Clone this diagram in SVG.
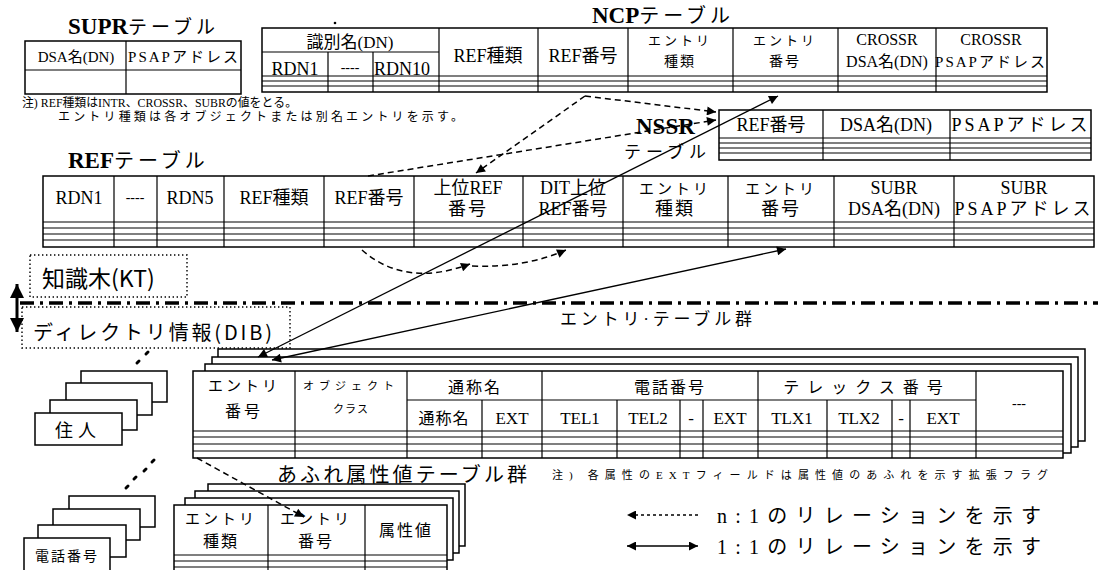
<svg xmlns="http://www.w3.org/2000/svg" width="1098" height="570" viewBox="0 0 1098 570">
<defs>
<marker id="ah" viewBox="0 0 10 10" refX="10" refY="5" markerWidth="12" markerHeight="9" markerUnits="userSpaceOnUse" orient="auto-start-reverse"><path d="M0,0 L10,5 L0,10 z" fill="#000"/></marker>
<marker id="ahb" viewBox="0 0 10 10" refX="10" refY="5" markerWidth="14" markerHeight="14" markerUnits="userSpaceOnUse" orient="auto-start-reverse"><path d="M0,0 L10,5 L0,10 z" fill="#000"/></marker>
</defs>
<style>
.t{font-family:"Liberation Serif","Noto Sans CJK JP",serif;fill:#000}
.g{font-family:"Noto Sans CJK JP",sans-serif;fill:#000}
.c{text-anchor:middle}
.box{fill:#fff;stroke:#000;stroke-width:1.5}
.ln{stroke:#000;stroke-width:1.2;fill:none}
.dash{stroke:#000;stroke-width:1.5;fill:none;stroke-dasharray:6 4}
.sol{stroke:#000;stroke-width:1.3;fill:none}
.dotb{fill:none;stroke:#000;stroke-width:1.4;stroke-dasharray:1.4 2.6}
.h{font-size:18px}
.k{font-size:15px;letter-spacing:3px}
</style>
<rect width="1098" height="570" fill="#fff"/>

<g id="supr">
<text class="t" x="68" y="34"><tspan font-weight="bold" font-size="23">SUPR</tspan><tspan font-size="19" letter-spacing="4">テーブル</tspan></text>
<rect class="box" x="25" y="41" width="216" height="53"/>
<path class="ln" d="M25,70H241M126,41V94"/>
<text class="t c" x="76" y="62" font-size="15">DSA名(DN)</text>
<text class="t c" x="184" y="62" font-size="15" letter-spacing="2">PSAPアドレス</text>
</g>

<circle cx="335" cy="23" r="1.3" fill="#000"/>

<g id="ncp">
<text class="t" x="592" y="23"><tspan font-weight="bold" font-size="23">NCP</tspan><tspan font-size="20" letter-spacing="4">テーブル</tspan></text>
<rect class="box" x="262" y="28" width="785" height="64"/>
<path class="ln" d="M262,52H439M328,52V92M373,52V92M439,28V92M538,28V92M628,28V92M733,28V92M838,28V92M936,28V92M262,76H1047M262,81H1047M262,86H1047"/>
<text class="t c" x="350" y="48" font-size="17">識別名(DN)</text>
<text class="t c h" x="295" y="75">RDN1</text>
<text class="t c" x="350" y="72" font-size="14">----</text>
<text class="t h" x="374" y="75">RDN10</text>
<text class="t c h" x="488" y="62">REF種類</text>
<text class="t c h" x="583" y="62">REF番号</text>
<text class="t c" x="680" y="45" font-size="13" letter-spacing="3">エントリ</text>
<text class="t c" x="680" y="66" font-size="14" letter-spacing="2">種類</text>
<text class="t c" x="785" y="45" font-size="13" letter-spacing="3">エントリ</text>
<text class="t c" x="785" y="66" font-size="14" letter-spacing="2">番号</text>
<text class="t c" x="887" y="45" font-size="16">CROSSR</text>
<text class="t c" x="887" y="67" font-size="16">DSA名(DN)</text>
<text class="t c" x="991" y="45" font-size="16">CROSSR</text>
<text class="t c" x="991" y="67" font-size="15" letter-spacing="2">PSAPアドレス</text>
</g>

<g id="note1">
<text class="t" x="22" y="107" font-size="12" textLength="275" lengthAdjust="spacingAndGlyphs">注)  REF種類はINTR、CROSSR、SUBRの値をとる。</text>
<text class="t" x="58" y="121" font-size="12" textLength="405" lengthAdjust="spacing">エントリ種類は各オブジェクトまたは別名エントリを示す。</text>
</g>

<g id="nssr">
<text class="t" x="636" y="134" font-weight="bold" font-size="23">NSSR</text>
<text class="t" x="624" y="158" font-size="17" letter-spacing="5">テーブル</text>
<rect class="box" x="719" y="110" width="372" height="50"/>
<path class="ln" d="M823,110V160M950,110V160M719,138H1091M719,143H1091M719,148H1091M719,153H1091"/>
<text class="t c h" x="771" y="131">REF番号</text>
<text class="t c h" x="886" y="131">DSA名(DN)</text>
<text class="t c h" x="1021" y="131" letter-spacing="3">PSAPアドレス</text>
</g>

<g id="ref">
<text class="t" x="68" y="168"><tspan font-weight="bold" font-size="23">REF</tspan><tspan font-size="20" letter-spacing="4">テーブル</tspan></text>
<rect class="box" x="43" y="176" width="1051" height="71"/>
<path class="ln" d="M114,176V247M157,176V247M224,176V247M324,176V247M414,176V247M523,176V247M623,176V247M728,176V247M834,176V247M954,176V247M43,222H1094M43,228H1094M43,234H1094M43,240H1094"/>
<text class="t c h" x="79" y="204">RDN1</text>
<text class="t c" x="135" y="202" font-size="14">----</text>
<text class="t c h" x="190" y="204">RDN5</text>
<text class="t c h" x="274" y="204">REF種類</text>
<text class="t c h" x="369" y="204">REF番号</text>
<text class="t c h" x="468" y="194">上位REF</text>
<text class="t c h" x="468" y="215" letter-spacing="2">番号</text>
<text class="t c h" x="573" y="194">DIT上位</text>
<text class="t c h" x="573" y="215">REF番号</text>
<text class="t c k" x="675" y="194">エントリ</text>
<text class="t c h" x="675" y="215" letter-spacing="2">種類</text>
<text class="t c k" x="781" y="194">エントリ</text>
<text class="t c h" x="781" y="215" letter-spacing="2">番号</text>
<text class="t c h" x="894" y="194">SUBR</text>
<text class="t c h" x="894" y="215">DSA名(DN)</text>
<text class="t c h" x="1024" y="194">SUBR</text>
<text class="t c h" x="1024" y="215" letter-spacing="3">PSAPアドレス</text>
</g>

<g id="kt">
<rect class="dotb" x="30" y="255" width="157" height="42"/>
<text class="g" x="42" y="287" font-size="23">知識木(KT)</text>
</g>
<g id="dib">
<rect class="dotb" x="22" y="307" width="268" height="41"/>
<text class="g" x="33" y="340" font-size="20" textLength="239" lengthAdjust="spacing">ディレクトリ情報(DIB)</text>
</g>

<g id="entry">
<text class="t" x="560" y="325" font-size="17" textLength="192" lengthAdjust="spacing">エントリ·テーブル群</text>
<rect class="box" x="218" y="349" width="867" height="92"/>
<rect class="box" x="212" y="357" width="866" height="90"/>
<rect class="box" x="205" y="364" width="866" height="89"/>
<rect class="box" x="193" y="371" width="870" height="87"/>
<path class="ln" d="M295,371V458M407,371V458M542,371V458M758,371V458M976,371V458M482,400V458M617,400V458M680,400V458M703,400V458M827,400V458M892,400V458M910,400V458M407,400H976M193,431H1063M193,437H1063M193,444H1063M193,451H1063"/>
<text class="t c" x="244" y="391" font-size="15" letter-spacing="3">エントリ</text>
<text class="t c" x="244" y="417" font-size="16" letter-spacing="3">番号</text>
<text class="t c" x="351" y="390" font-size="11" letter-spacing="5">オブジェクト</text>
<text class="t c" x="351" y="413" font-size="11" letter-spacing="1">クラス</text>
<text class="t c" x="475" y="393" font-size="16" letter-spacing="2">通称名</text>
<text class="t c" x="670" y="393" font-size="16" letter-spacing="2">電話番号</text>
<text class="t c" x="867" y="393" font-size="16" letter-spacing="8">テレックス番号</text>
<text class="t c" x="444" y="424" font-size="16" letter-spacing="1">通称名</text>
<text class="t c" x="512" y="424" font-size="17">EXT</text>
<text class="t c" x="580" y="424" font-size="17">TEL1</text>
<text class="t c" x="648" y="424" font-size="17">TEL2</text>
<text class="t c" x="691" y="424" font-size="17">-</text>
<text class="t c" x="730" y="424" font-size="17">EXT</text>
<text class="t c" x="792" y="424" font-size="17">TLX1</text>
<text class="t c" x="859" y="424" font-size="17">TLX2</text>
<text class="t c" x="901" y="424" font-size="17">-</text>
<text class="t c" x="943" y="424" font-size="17">EXT</text>
<text class="t c" x="1019" y="408" font-size="14">---</text>
</g>

<g id="cards1">
<rect class="box" x="81" y="371" width="86" height="31"/>
<rect class="box" x="66" y="383" width="86" height="32"/>
<rect class="box" x="50" y="400" width="87" height="30"/>
<rect class="box" x="35" y="413" width="87" height="32"/>
<text class="g c" x="78" y="437" font-size="18" letter-spacing="5">住人</text>
</g>

<g id="cards2">
<rect class="box" x="69" y="496" width="86" height="31"/>
<rect class="box" x="53" y="509" width="87" height="31"/>
<rect class="box" x="38" y="525" width="88" height="32"/>
<rect class="box" x="24" y="538" width="86" height="34"/>
<text class="g c" x="67" y="561" font-size="14" letter-spacing="2">電話番号</text>
</g>

<g id="dots" stroke="#000" stroke-width="3" stroke-linecap="round">
<path d="M146,354L148,352M137,363L139,361M152,462L154,460M144,471L146,469M134,479L136,477M126,488L128,486"/>
</g>

<g id="overflow">
<text class="t" x="277" y="482" font-size="20" textLength="250" lengthAdjust="spacing">あふれ属性値テーブル群</text>
<rect class="box" x="208" y="484" width="257" height="62"/>
<rect class="box" x="195" y="491" width="264" height="62"/>
<rect class="box" x="185" y="498" width="268" height="62"/>
<rect class="box" x="174" y="505" width="273" height="72"/>
<path class="ln" d="M268,505V577M365,505V577M174,555H447M174,561H447M174,567H447"/>
<text class="t c" x="221" y="524" font-size="15" letter-spacing="3">エントリ</text>
<text class="t c" x="221" y="547" font-size="16" letter-spacing="2">種類</text>
<text class="t c" x="316" y="524" font-size="15" letter-spacing="3">エントリ</text>
<text class="t c" x="316" y="547" font-size="16" letter-spacing="2">番号</text>
<text class="t c" x="406" y="536" font-size="16" letter-spacing="2">属性値</text>
</g>

<g id="note2">
<text class="t" x="552" y="479" font-size="11" textLength="496" lengthAdjust="spacing">注)  各属性のEXTフィールドは属性値のあふれを示す拡張フラグ</text>
</g>

<g id="connectors">
<path d="M20,303H1098" stroke="#000" stroke-width="3.5" fill="none" stroke-dasharray="14 6 3 6"/>
<path d="M17,284V332" stroke="#000" stroke-width="3" fill="none" marker-start="url(#ahb)" marker-end="url(#ahb)"/>
<path class="dash" d="M585,96L716,112" marker-end="url(#ah)"/>
<path class="dash" d="M585,96L476,173" marker-end="url(#ah)"/>
<path class="dash" d="M368,176L716,120" marker-end="url(#ah)"/>
<path class="dash" d="M362,250Q405,288 470,264" marker-end="url(#ah)"/>
<path class="dash" d="M472,266Q525,268 566,250" marker-end="url(#ah)"/>
<path class="dash" d="M197,458L304,517" marker-end="url(#ah)"/>
<path class="sol" d="M778,96L258,357" marker-start="url(#ah)" marker-end="url(#ah)"/>
<path class="sol" d="M786,249L272,360" marker-start="url(#ah)" marker-end="url(#ah)"/>
</g>

<g id="legend">
<path d="M698,515H627" stroke="#000" stroke-width="1.5" fill="none" stroke-dasharray="3 3" marker-end="url(#ah)"/>
<text class="t" x="717" y="523" font-size="20" textLength="324" lengthAdjust="spacing">n:1のリレーションを示す</text>
<path class="sol" d="M627,546H698" stroke-width="1.8" marker-start="url(#ah)" marker-end="url(#ah)"/>
<text class="t" x="717" y="554" font-size="20" textLength="324" lengthAdjust="spacing">1:1のリレーションを示す</text>
</g>
</svg>
